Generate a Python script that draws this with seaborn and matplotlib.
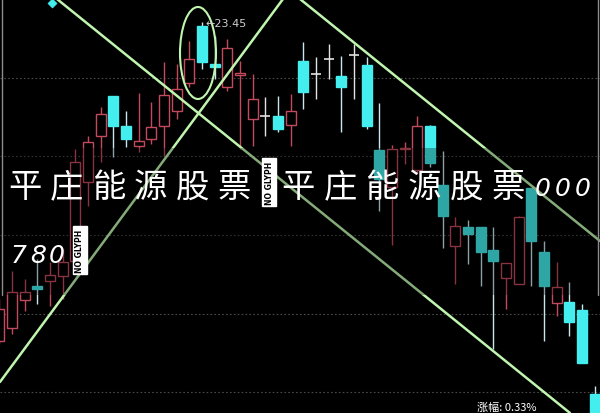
import numpy as np
import matplotlib
matplotlib.use("Agg")
import matplotlib.pyplot as plt
import seaborn as sns
from matplotlib.patches import Ellipse, Rectangle

# Candles (price units)
opens = [17.07, 17.33, 17.89, 18.17, 18.27, 18.37, 18.67, 20.25, 21.17, 21.97,
         21.37, 20.97, 21.11, 21.37, 21.67, 22.23, 23.37, 22.61, 22.15, 22.39,
         21.51, 21.57, 21.57, 21.39, 22.67, 22.41, 22.71, 22.37, 22.79, 22.59,
         20.89, 20.15, 20.91, 20.49, 21.37, 20.19, 18.97, 19.35, 19.35, 18.89,
         18.33, 18.21, 20.13, 18.85, 17.83, 17.85, 17.69, 16.01]
closes = [17.71, 18.05, 18.05, 18.11, 18.39, 18.65, 20.65, 21.05, 21.61, 21.37,
          21.11, 21.07, 21.35, 21.99, 22.11, 22.71, 22.65, 22.55, 22.93, 22.43,
          21.91, 21.57, 21.31, 21.67, 22.05, 22.41, 22.71, 22.15, 22.79, 21.37,
          20.31, 20.91, 20.93, 21.37, 20.63, 19.57, 19.37, 19.21, 18.85, 18.67,
          18.63, 19.55, 19.07, 18.17, 18.15, 17.45, 16.63, 15.51]
highs = [17.91, 18.47, 18.31, 18.71, 18.65, 18.91, 20.91, 21.17, 21.75, 21.97,
         21.67, 22.03, 21.85, 22.65, 22.61, 23.07, 23.45, 23.17, 23.11, 22.67,
         22.41, 21.95, 21.97, 22.01, 23.05, 22.75, 23.01, 22.77, 23.01, 22.75,
         21.83, 20.99, 21.05, 21.57, 21.39, 20.87, 19.55, 19.49, 19.35, 19.35,
         18.63, 19.57, 20.13, 19.07, 18.65, 18.25, 17.81, 16.17]
lows = [17.01, 17.21, 17.67, 17.81, 17.77, 17.91, 18.51, 19.77, 20.65, 20.75,
        20.95, 20.85, 21.01, 20.77, 21.51, 22.15, 22.51, 22.31, 22.07, 20.91,
        20.97, 21.17, 21.25, 20.97, 21.71, 21.91, 22.31, 21.25, 21.91, 21.31,
        19.67, 18.99, 20.61, 20.41, 20.55, 18.93, 18.21, 18.61, 18.17, 16.91,
        17.71, 18.21, 18.17, 17.07, 17.57, 17.17, 16.63, 15.51]

grid_prices = [22.33, 20.77, 19.19, 17.61, 16.05]
peak_label = "←23.45"

# trend lines (candle index, price)
trend_down_x = [4.55, 45.04]
trend_down_y = [23.91, 15.63]
trend_up_x = [0.05, 22.39]
trend_up_y = [16.25, 23.91]
trend_top_x = [23.73, 47.41]
trend_top_y = [23.91, 19.07]

title_line1_a = "平庄能源股票"
title_line1_b = "平庄能源股票"
title_digits1 = "000"
title_digits2 = "780"

RED = "#c24a5c"
CYAN = "#44eeee"
GREEN = "#bff5ae"

sns.set_style("dark", {"axes.facecolor": "black", "figure.facecolor": "black"})
plt.rcParams['font.family'] = ['Noto Sans CJK SC', 'DejaVu Sans']

fig = plt.figure(figsize=(6, 4.14), dpi=100, facecolor="black")
ax = fig.add_axes([0, 0, 1, 1])
ax.set_facecolor("black")
ax.set_xlim(0.053, 47.41)
ax.set_ylim(15.63, 23.91)
ax.axis("off")

# dotted price grid
for gp in grid_prices:
    ax.axhline(gp, color="#4a4a4a", lw=0.8, ls=(0, (1.5, 2)), zorder=1)

# candles
x = np.arange(len(opens))
w = 0.79
for xi, o, c, h, l in zip(x, opens, closes, highs, lows):
    if o == c:
        ax.vlines(xi, l, h, color="#e4e4e4", lw=1, zorder=3)
        ax.hlines(o, xi - w / 2, xi + w / 2, color="#e4e4e4", lw=1.2, zorder=3)
    elif c > o:
        ax.vlines(xi, l, h, color=RED, lw=1, zorder=2)
        ax.bar(xi, c - o, bottom=o, width=w, facecolor="black",
               edgecolor=RED, lw=1, zorder=3)
    else:
        ax.vlines(xi, l, h, color="#c8e6ee", lw=1, zorder=2)
        ax.bar(xi, o - c, bottom=c, width=w, facecolor=CYAN,
               edgecolor=CYAN, lw=1, zorder=3)

# trend lines and the circled peak
for tx, ty in [(trend_down_x, trend_down_y), (trend_up_x, trend_up_y),
               (trend_top_x, trend_top_y)]:
    sns.lineplot(x=tx, y=ty, ax=ax, color=GREEN, lw=1.8, zorder=4)
ax.add_patch(Ellipse((15.68, 22.83), 2.84, 1.84, fill=False,
                     edgecolor=GREEN, lw=1.5, zorder=4))
ax.text(16.25, 23.43, peak_label, color="#cfcfcf", fontsize=8,
        ha="left", va="center", family="DejaVu Sans", zorder=5)
sns.scatterplot(x=[4.16], y=[23.83], ax=ax, marker="D", s=22,
                color=CYAN, edgecolor=CYAN, zorder=5)

# darkened band behind the title and screenshot edges
ax.add_patch(Rectangle((0, 1 - 296 / 414), 1, (296 - 149) / 414,
                       transform=ax.transAxes, facecolor="black",
                       edgecolor="none", lw=0, alpha=0.3, zorder=6))
for ex in [1.5 / 600, 597.5 / 600]:
    ax.plot([ex, ex], [1, 1 - 296 / 414], transform=ax.transAxes,
            color="#8c8c8c", lw=1, zorder=6)


def px(xp, yp):
    return xp / 600, 1 - yp / 414


# overlaid title
for k, ch in enumerate(title_line1_a):
    fig.text(*px(25 + 41.8 * k, 188), ch, color="white", fontsize=24,
             weight="medium", ha="center", va="center", zorder=10)
for k, ch in enumerate(title_line1_b):
    fig.text(*px(298 + 42 * k, 188), ch, color="white", fontsize=24,
             weight="medium", ha="center", va="center", zorder=10)
for k, ch in enumerate(title_digits1):
    fig.text(*px(543 + 20 * k, 189), ch, color="white", fontsize=18,
             style="italic", family="DejaVu Sans", ha="center", va="center",
             zorder=10)
for k, ch in enumerate(title_digits2):
    fig.text(*px(19 + 19 * k, 256), ch, color="white", fontsize=18,
             style="italic", family="DejaVu Sans", ha="center", va="center",
             zorder=10)
for bx, by in [(269, 183), (80, 251)]:
    fig.text(*px(bx, by), "NO GLYPH", rotation=90, color="black",
             fontsize=5.5, weight="bold", family="DejaVu Sans",
             ha="center", va="center", zorder=10,
             bbox=dict(boxstyle="square,pad=0.3", fc="white", ec="white"))

fig.text(*px(477, 403), "涨幅: 0.33%", color="white", fontsize=8,
         ha="left", va="top", zorder=10)

fig.savefig("out.png", dpi=100, facecolor="black")
